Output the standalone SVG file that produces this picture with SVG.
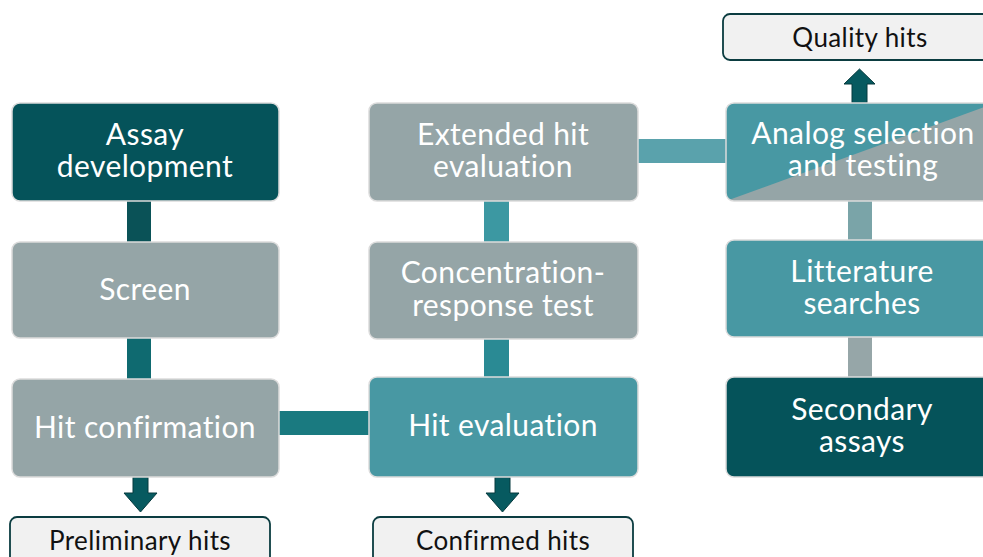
<svg xmlns="http://www.w3.org/2000/svg" width="983" height="557" viewBox="0 0 983 557">
<style>
.box{stroke:#dcdcdc;stroke-width:1.5}
.dark{fill:#05535a}
.grey{fill:#95a5a7}
.teal{fill:#4898a3}
.lbl{font-family:Lato,"Open Sans","Liberation Sans",sans-serif;font-size:30px;letter-spacing:0.4px;fill:#ffffff;text-anchor:middle}
.out{fill:#f1f1f1;stroke:#0b3c40;stroke-width:1.8}
.olbl{font-family:Lato,"Open Sans","Liberation Sans",sans-serif;font-size:26px;letter-spacing:0.4px;fill:#111111;text-anchor:middle}
.arrow{fill:#075a60;stroke:#063a3e;stroke-width:1}
</style>
<rect width="983" height="557" fill="#ffffff"/>
<g id="connectors">
<rect x="127" y="200" width="24" height="42" fill="#0a5257"/>
<rect x="127" y="338" width="24" height="41" fill="#0f6a70"/>
<rect x="279" y="411" width="90" height="24" fill="#1a7a80"/>
<rect x="484" y="200" width="25" height="42" fill="#3c98a2"/>
<rect x="484" y="338" width="25" height="40" fill="#2a8a94"/>
<rect x="637" y="139" width="90" height="24" fill="#5aa2ac"/>
<rect x="848" y="200" width="24" height="40" fill="#7aa4a8"/>
<rect x="848" y="337" width="24" height="40" fill="#96a6a8"/>
<polygon class="arrow" points="133,477 148,477 148,493 157,493 140.5,512 124,493 133,493"/>
<polygon class="arrow" points="495,477 510,477 510,493 519,493 502.5,512 486,493 495,493"/>
<polygon class="arrow" points="852,103 867,103 867,84 875,84 859.5,69 844,84 852,84"/>
</g>
<g id="assay">
<rect class="box dark" x="12" y="103" width="267" height="98" rx="8"/>
<text class="lbl" x="145" y="145">Assay</text>
<text class="lbl" x="145" y="177">development</text>
</g>
<g id="screen">
<rect class="box grey" x="12" y="242" width="267" height="96" rx="8"/>
<text class="lbl" x="145" y="300">Screen</text>
</g>
<g id="hitconf">
<rect class="box grey" x="12" y="379" width="267" height="98" rx="8"/>
<text class="lbl" x="145" y="438">Hit confirmation</text>
</g>
<g id="prelim">
<rect class="out" x="10" y="517" width="260" height="50" rx="7"/>
<text class="olbl" x="140" y="550">Preliminary hits</text>
</g>
<g id="extended">
<rect class="box grey" x="369" y="103" width="269" height="98" rx="8"/>
<text class="lbl" x="503" y="145">Extended hit</text>
<text class="lbl" x="503" y="177">evaluation</text>
</g>
<g id="concentration">
<rect class="box grey" x="369" y="242" width="269" height="97" rx="8"/>
<text class="lbl" x="503" y="283">Concentration-</text>
<text class="lbl" x="503" y="316">response test</text>
</g>
<g id="hiteval">
<rect class="box teal" x="369" y="377" width="269" height="100" rx="8"/>
<text class="lbl" x="503" y="436">Hit evaluation</text>
</g>
<g id="confirmed">
<rect class="out" x="373" y="517" width="260" height="50" rx="7"/>
<text class="olbl" x="503" y="550">Confirmed hits</text>
</g>
<g id="quality">
<rect class="out" x="723" y="14" width="280" height="46" rx="7"/>
<text class="olbl" x="860" y="47">Quality hits</text>
</g>
<g id="analog">
<clipPath id="ac"><rect x="726" y="103" width="280" height="98" rx="8"/></clipPath>
<g clip-path="url(#ac)">
<rect x="726" y="103" width="280" height="98" fill="#4898a3"/>
<polygon points="726,201 1006,99 1006,201" fill="#95a5a7"/>
</g>
<rect x="726" y="103" width="280" height="98" rx="8" fill="none" stroke="#dcdcdc" stroke-width="1.5"/>
<text class="lbl" x="863" y="144">Analog selection</text>
<text class="lbl" x="863" y="176">and testing</text>
</g>
<g id="litterature">
<rect class="box teal" x="726" y="240" width="280" height="97" rx="8"/>
<text class="lbl" x="862" y="282">Litterature</text>
<text class="lbl" x="862" y="314">searches</text>
</g>
<g id="secondary">
<rect class="box dark" x="726" y="377" width="280" height="100" rx="8"/>
<text class="lbl" x="862" y="420">Secondary</text>
<text class="lbl" x="862" y="452">assays</text>
</g>
</svg>
